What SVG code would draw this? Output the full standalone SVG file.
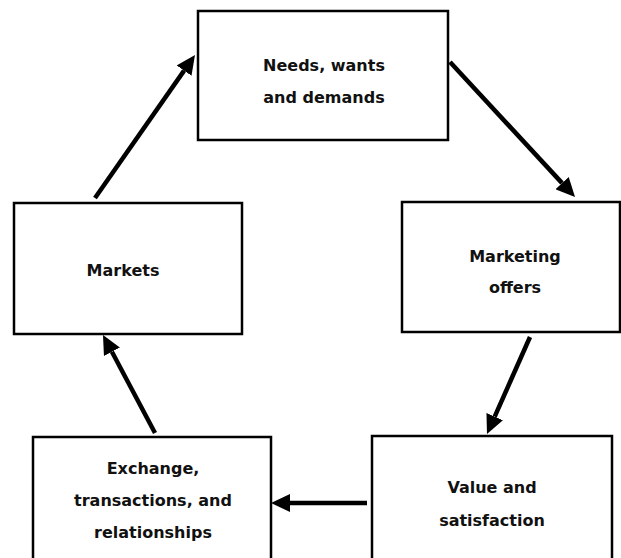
<svg xmlns="http://www.w3.org/2000/svg" width="621" height="558" viewBox="0 0 621 558">
<style>
.box{fill:#fff;stroke:#000;stroke-width:2.5}
.lbl{font-family:"DejaVu Sans","Liberation Sans",sans-serif;font-weight:bold;font-size:16px;fill:#111;text-anchor:middle}
.arr{stroke:#000;stroke-width:4.5;fill:none;stroke-linecap:butt;marker-end:url(#ah)}
</style>
<defs>
<marker id="ah" markerUnits="userSpaceOnUse" markerWidth="19" markerHeight="18" refX="0" refY="9" orient="auto" viewBox="0 0 19 18">
<path d="M0,0 L19,9 L0,18 z" fill="#000"/>
</marker>
</defs>
<rect width="621" height="558" fill="#fff"/>
<g id="connectors">
<line class="arr" x1="95" y1="198" x2="184.1" y2="70.6"/>
<line class="arr" x1="450" y1="62" x2="562.1" y2="183.1"/>
<line class="arr" x1="530" y1="337" x2="494.7" y2="416.6"/>
<line class="arr" x1="367" y1="503" x2="290" y2="503"/>
<line class="arr" x1="155" y1="433" x2="111.9" y2="351.8"/>
</g>
<g id="needs">
<rect class="box" x="198" y="11" width="250" height="129"/>
<text class="lbl" x="324" y="71">Needs, wants</text>
<text class="lbl" x="324" y="103">and demands</text>
</g>
<g id="markets">
<rect class="box" x="14" y="203" width="228" height="131"/>
<text class="lbl" x="123" y="276">Markets</text>
</g>
<g id="offers">
<rect class="box" x="402" y="202" width="218" height="130"/>
<text class="lbl" x="515" y="262">Marketing</text>
<text class="lbl" x="515" y="293">offers</text>
</g>
<g id="exchange">
<rect class="box" x="33" y="437" width="238" height="130"/>
<text class="lbl" x="153" y="474">Exchange,</text>
<text class="lbl" x="153" y="506">transactions, and</text>
<text class="lbl" x="153" y="538">relationships</text>
</g>
<g id="value">
<rect class="box" x="372" y="436" width="240" height="130"/>
<text class="lbl" x="492" y="493">Value and</text>
<text class="lbl" x="492" y="526">satisfaction</text>
</g>
</svg>
